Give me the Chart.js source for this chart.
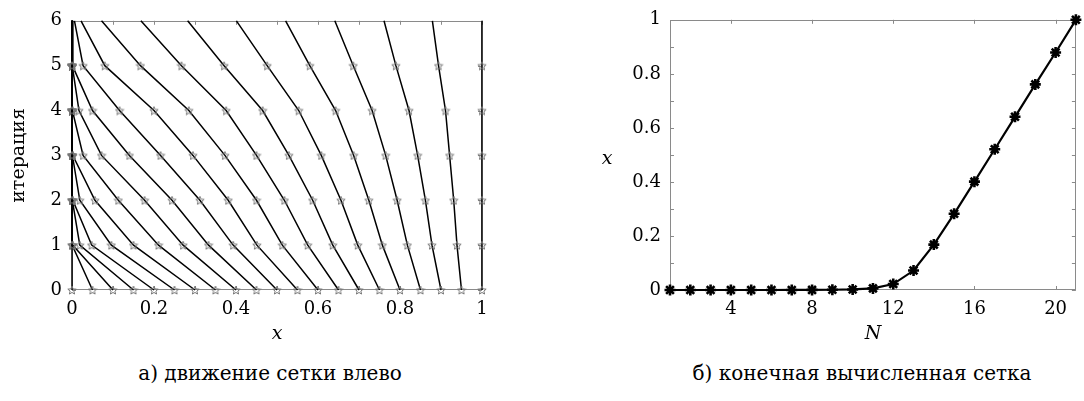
<!DOCTYPE html>
<html><head><meta charset="utf-8">
<script src="https://cdn.jsdelivr.net/npm/chart.js@4.4.0/dist/chart.umd.min.js"></script>
<style>
html,body{margin:0;padding:0;background:#fff;width:1084px;height:401px;overflow:hidden;}
#c1{position:absolute;left:0;top:0;}
#c2{position:absolute;left:580px;top:0;}
.cap{position:absolute;top:360px;font-family:"DejaVu Serif",serif;font-size:20px;line-height:26px;color:#000;white-space:nowrap;transform:translateX(-50%);}
.ylab{position:absolute;font-family:"DejaVu Serif",serif;font-style:italic;font-size:19px;line-height:20px;color:#000;transform:translate(-50%,-50%);}
</style></head><body>
<canvas id="c1" width="540" height="345"></canvas>
<canvas id="c2" width="504" height="345"></canvas>
<div class="ylab" style="left:607px;top:157px">x</div>
<div class="cap" style="left:270px">а) движение сетки влево</div>
<div class="cap" style="left:862px">б) конечная вычисленная сетка</div>
<script>
// ---------- data ----------
const iterations = [0, 1, 2, 3, 4, 5, 6];
const meshIter0 = [0,0.05,0.10,0.15,0.20,0.25,0.30,0.35,0.40,0.45,0.50,0.55,0.60,0.65,0.70,0.75,0.80,0.85,0.90,0.95,1.00];
const meshIter1 = [0,0.0005,0.002,0.019,0.048,0.096,0.150,0.211,0.271,0.333,0.393,0.451,0.513,0.575,0.636,0.697,0.757,0.818,0.878,0.939,1.00];
const meshIter2 = [0,0,0.0003,0.0008,0.002,0.019,0.056,0.113,0.177,0.244,0.312,0.381,0.450,0.518,0.587,0.656,0.724,0.793,0.862,0.931,1.00];
const meshIter3 = [0,0,0,0.0002,0.0005,0.001,0.002,0.027,0.072,0.140,0.216,0.295,0.373,0.450,0.529,0.608,0.687,0.765,0.843,0.921,1.00];
const meshIter4 = [0,0,0,0,0.0001,0.0003,0.0006,0.001,0.017,0.050,0.116,0.200,0.285,0.376,0.465,0.553,0.643,0.732,0.822,0.911,1.00];
const meshIter5 = [0,0,0,0,0,0,0.0001,0.0003,0.0006,0.001,0.027,0.080,0.167,0.267,0.371,0.476,0.580,0.686,0.790,0.894,1.00];
const meshIter6 = [0,0,0,0,0,0,0.0001,0.0003,0.001,0.002,0.006,0.022,0.072,0.168,0.282,0.401,0.521,0.641,0.761,0.879,1.00];
const meshByIter = [meshIter0, meshIter1, meshIter2, meshIter3, meshIter4, meshIter5, meshIter6];
const markedIterations = [0, 1, 2, 3, 4, 5];

const nodeNumbers = [1,2,3,4,5,6,7,8,9,10,11,12,13,14,15,16,17,18,19,20,21];
const finalGridX = meshIter6;

const leftXTickValues = [0,0.1,0.2,0.3,0.4,0.5,0.6,0.7,0.8,0.9,1];
const leftXTickLabels = ['0','','0.2','','0.4','','0.6','','0.8','','1'];
const leftYTickValues = [0,1,2,3,4,5,6];
const leftYTickLabels = ['0','1','2','3','4','5','6'];
const rightXTickValues = [4,8,12,16,20];
const rightXTickLabels = ['4','8','12','16','20'];
const rightYTickValues = [0,0.1,0.2,0.3,0.4,0.5,0.6,0.7,0.8,0.9,1];
const rightYTickLabels = ['0','','0.2','','0.4','','0.6','','0.8','','1'];

// ---------- styling helpers ----------
const SERIF = '"DejaVu Serif", serif';
const AXIS_GRAY = '#8a8a8a';

function makePentagram(size, color) {
  const c = document.createElement('canvas');
  c.width = c.height = size;
  const g = c.getContext('2d');
  const cx = size / 2, cy = size / 2 + 0.5, R = size / 2 - 0.6, r = R * 0.45;
  g.beginPath();
  for (let i = 0; i < 10; i++) {
    const a = -Math.PI / 2 + i * Math.PI / 5;
    const rad = i % 2 ? r : R;
    g.lineTo(cx + rad * Math.cos(a), cy + rad * Math.sin(a));
  }
  g.closePath();
  g.strokeStyle = color; g.lineWidth = 1; g.stroke();
  return c;
}
const starImg = makePentagram(10, '#777777');

const boxTicks = {
  id: 'boxTicks',
  beforeDatasetsDraw(chart, args, o) {
    const {ctx, chartArea: a, scales} = chart;
    ctx.save();
    ctx.strokeStyle = o.color; ctx.lineWidth = 1;
    ctx.strokeRect(Math.round(a.left) + 0.5, Math.round(a.top) + 0.5,
                   Math.round(a.right - a.left) - 1, Math.round(a.bottom - a.top) - 1);
    ctx.beginPath();
    o.xTicks.forEach(v => {
      const px = Math.round(scales.x.getPixelForValue(v)) + 0.5;
      ctx.moveTo(px, a.bottom); ctx.lineTo(px, a.bottom - o.len);
      ctx.moveTo(px, a.top); ctx.lineTo(px, a.top + o.len);
    });
    o.yTicks.forEach(v => {
      const py = Math.round(scales.y.getPixelForValue(v)) + 0.5;
      ctx.moveTo(a.left, py); ctx.lineTo(a.left + o.len, py);
      ctx.moveTo(a.right, py); ctx.lineTo(a.right - o.len, py);
    });
    ctx.stroke();
    ctx.restore();
  }
};

function fixedTicks(values) {
  return scale => { scale.ticks = values.map(v => ({value: v})); };
}
function labelFrom(values, labels) {
  return v => { const i = values.findIndex(t => Math.abs(t - v) < 1e-9); return i >= 0 ? labels[i] : ''; };
}

// ---------- left chart ----------
const leftDatasets = meshIter0.map((_, node) => ({
  data: iterations.map(k => ({x: meshByIter[k][node], y: k})),
  showLine: true,
  borderColor: '#000',
  borderWidth: 1.5,
  tension: 0,
  pointStyle: starImg,
  pointRadius: ctx => (markedIterations.includes(ctx.raw ? ctx.raw.y : -1) ? 4 : 0),
  clip: false
}));

new Chart(document.getElementById('c1'), {
  type: 'scatter',
  data: {datasets: leftDatasets},
  options: {
    responsive: false, animation: false, events: [],
    layout: {padding: {left: 0, right: 58, top: 13, bottom: 0}},
    plugins: {legend: {display: false}, tooltip: {enabled: false},
      boxTicks: {color: AXIS_GRAY, len: 4, xTicks: leftXTickValues, yTicks: leftYTickValues}},
    scales: {
      x: {type: 'linear', min: 0, max: 1,
        afterBuildTicks: fixedTicks(leftXTickValues),
        afterFit: s => { s.height = 55; },
        grid: {display: false, drawTicks: false}, border: {display: false},
        ticks: {padding: 9, color: '#000', font: {family: SERIF, size: 18}, maxRotation: 0, autoSkip: false,
          callback: labelFrom(leftXTickValues, leftXTickLabels)},
        title: {display: true, text: 'x', color: '#000', padding: {top: 2, bottom: 0},
          font: {family: SERIF, size: 19, style: 'italic'}}
      },
      y: {type: 'linear', min: 0, max: 6,
        afterBuildTicks: fixedTicks(leftYTickValues),
        afterFit: s => { s.width = 72; },
        grid: {display: false, drawTicks: false}, border: {display: false},
        ticks: {padding: 10, color: '#000', font: {family: SERIF, size: 18}, autoSkip: false,
          callback: labelFrom(leftYTickValues, leftYTickLabels)},
        title: {display: true, text: 'итерация', color: '#000', padding: {top: 8, bottom: 0},
          font: {family: SERIF, size: 19}}
      }
    }
  },
  plugins: [boxTicks]
});

// ---------- right chart ----------
new Chart(document.getElementById('c2'), {
  type: 'scatter',
  data: {datasets: [{
    data: nodeNumbers.map((n, i) => ({x: n, y: finalGridX[i]})),
    showLine: true,
    borderColor: '#000',
    backgroundColor: '#000',
    borderWidth: 2.2,
    tension: 0,
    pointStyle: 'star',
    pointRadius: 5.5,
    pointBorderWidth: 2.6,
    pointBorderColor: '#000',
    clip: false
  }]},
  options: {
    responsive: false, animation: false, events: [],
    layout: {padding: {left: 0, right: 3, top: 13, bottom: 0}},
    plugins: {legend: {display: false}, tooltip: {enabled: false},
      boxTicks: {color: AXIS_GRAY, len: 4, xTicks: rightXTickValues, yTicks: rightYTickValues}},
    scales: {
      x: {type: 'linear', min: 1, max: 21,
        afterBuildTicks: fixedTicks(rightXTickValues),
        afterFit: s => { s.height = 55; },
        grid: {display: false, drawTicks: false}, border: {display: false},
        ticks: {padding: 9, color: '#000', font: {family: SERIF, size: 18}, maxRotation: 0, autoSkip: false,
          callback: labelFrom(rightXTickValues, rightXTickLabels)},
        title: {display: true, text: 'N', color: '#000', padding: {top: 2, bottom: 0},
          font: {family: SERIF, size: 19, style: 'italic'}}
      },
      y: {type: 'linear', min: 0, max: 1,
        afterBuildTicks: fixedTicks(rightYTickValues),
        afterFit: s => { s.width = 90; },
        grid: {display: false, drawTicks: false}, border: {display: false},
        ticks: {padding: 9, color: '#000', font: {family: SERIF, size: 18}, autoSkip: false,
          callback: labelFrom(rightYTickValues, rightYTickLabels)},
        title: {display: false}
      }
    }
  },
  plugins: [boxTicks]
});
</script>
</body></html>
